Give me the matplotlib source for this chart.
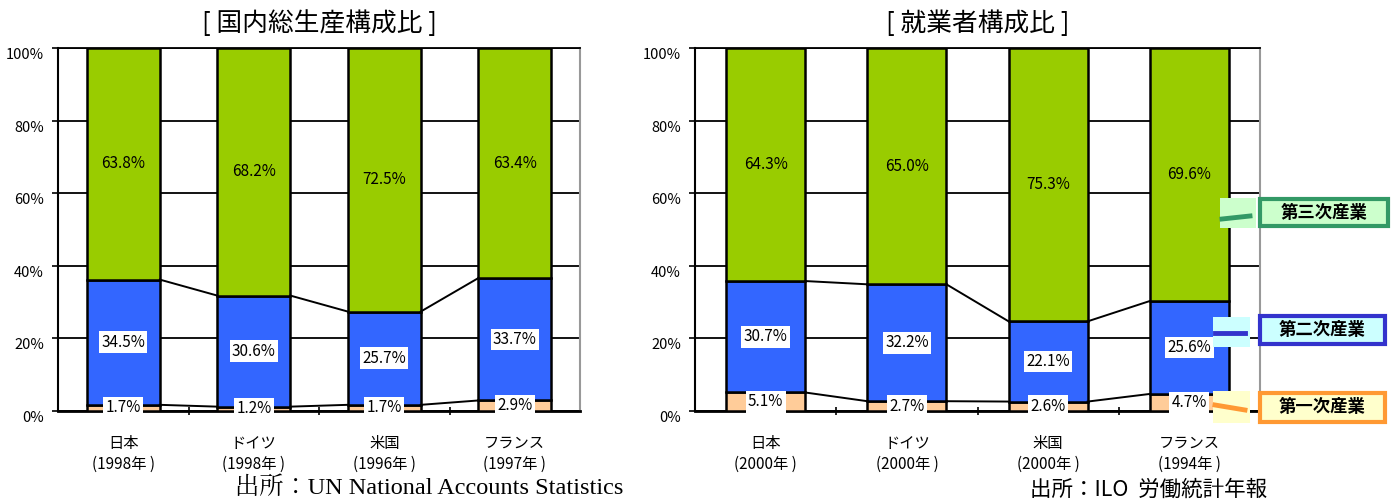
import matplotlib
matplotlib.use("Agg")
import matplotlib.pyplot as plt
from matplotlib.patches import Rectangle
from matplotlib.lines import Line2D
import numpy as np

plt.rcParams['font.family'] = ['Liberation Sans Narrow', 'Noto Sans CJK JP', 'DejaVu Sans']

# 国内総生産構成比
gdp_countries = ['日本\n(1998年 )', 'ドイツ\n(1998年 )', '米国\n(1996年 )', 'フランス\n(1997年 )']
gdp_primary = [1.7, 1.2, 1.7, 2.9]
gdp_secondary = [34.5, 30.6, 25.7, 33.7]
gdp_tertiary = [63.8, 68.2, 72.5, 63.4]

# 就業者構成比
emp_countries = ['日本\n(2000年 )', 'ドイツ\n(2000年 )', '米国\n(2000年 )', 'フランス\n(1994年 )']
emp_primary = [5.1, 2.7, 2.6, 4.7]
emp_secondary = [30.7, 32.2, 22.1, 25.6]
emp_tertiary = [64.3, 65.0, 75.3, 69.6]

C_PRI = '#ffcc99'
C_SEC = '#3366ff'
C_TER = '#99cc00'

W, H = 1399, 504
fig = plt.figure(figsize=(W / 100, H / 100), dpi=100)


def fx(px):
    return px / W


def fy(py):
    return 1 - py / H


def draw_chart(ax, cats, pri, sec, ter, title):
    x = np.arange(len(cats))
    bw = 0.56
    pri = np.array(pri)
    sec = np.array(sec)
    ter = np.array(ter)
    ax.bar(x, pri, bw, color=C_PRI, edgecolor='black', linewidth=1.8, zorder=3)
    ax.bar(x, sec, bw, bottom=pri, color=C_SEC, edgecolor='black', linewidth=1.8, zorder=3)
    ax.bar(x, ter, bw, bottom=pri + sec, color=C_TER, edgecolor='black', linewidth=1.8, zorder=3)

    # series lines between neighbouring bars
    for level in (pri, pri + sec):
        for i in range(len(x) - 1):
            ax.plot([x[i] + bw / 2, x[i + 1] - bw / 2], [level[i], level[i + 1]],
                    color='black', lw=1.4, zorder=4)

    box = dict(boxstyle='square,pad=0.15', facecolor='white', edgecolor='none')
    for i in range(len(x)):
        ax.text(x[i], pri[i] / 2, f'{pri[i]:.1f}%', ha='center', va='center',
                fontsize=11, bbox=box, zorder=5)
        ax.text(x[i], pri[i] + sec[i] / 2, f'{sec[i]:.1f}%', ha='center', va='center',
                fontsize=11, bbox=box, zorder=5)
        ax.text(x[i], pri[i] + sec[i] + ter[i] / 2, f'{ter[i]:.1f}%', ha='center',
                va='center', fontsize=11, zorder=5)

    ax.set_xlim(-0.5, len(cats) - 0.5)
    ax.set_ylim(0, 100)
    ax.set_yticks(np.arange(0, 101, 20))
    ax.set_yticklabels([f'{v}%' for v in range(0, 101, 20)], fontsize=10.5)
    ax.yaxis.grid(True, color='black', lw=1.3, zorder=0)
    ax.set_axisbelow(True)
    ax.set_xticks(x)
    ax.set_xticklabels(cats, fontsize=11, linespacing=1.35)
    ax.set_xticks(np.arange(0.5, len(cats) - 1, 1), minor=True)
    ax.tick_params(axis='x', which='major', length=0, pad=17)
    ax.tick_params(axis='x', which='minor', length=6, direction='inout', width=1.2)
    ax.tick_params(axis='y', length=4, width=1.2, pad=6)
    for lab in ax.get_yticklabels():
        lab.set_verticalalignment('top')
    ax.spines['left'].set_color('black')
    ax.spines['left'].set_linewidth(1.5)
    ax.spines['bottom'].set_color('black')
    ax.spines['bottom'].set_linewidth(2)
    ax.spines['top'].set_color('black')
    ax.spines['top'].set_linewidth(1.3)
    ax.spines['right'].set_color('#999999')
    ax.spines['right'].set_linewidth(1.5)
    ax.set_title(title, fontsize=18.5, pad=12)


ax1 = fig.add_axes([fx(58), fy(411), fx(580 - 58), (411 - 48) / H])
ax2 = fig.add_axes([fx(695), fy(411), fx(1260 - 695), (411 - 48) / H])
draw_chart(ax1, gdp_countries, gdp_primary, gdp_secondary, gdp_tertiary, '[ 国内総生産構成比 ]')
draw_chart(ax2, emp_countries, emp_primary, emp_secondary, emp_tertiary, '[ 就業者構成比 ]')

fig.text(fx(235), fy(488), '出所：UN National Accounts Statistics', fontsize=17.5,
         family=['Liberation Serif', 'Noto Serif CJK JP', 'Noto Sans CJK JP'], va='center')
fig.text(fx(1030), fy(490), '出所：ILO  労働統計年報', fontsize=15.5,
         family=['Noto Sans CJK JP', 'DejaVu Sans'], va='center')

# legend keys and labels
legend = [
    ('第三次産業', '#339966', '#ccffcc', (1220, 198, 1256, 228), (1258, 197, 1390, 228),
     ((1222, 219), (1250, 216))),
    ('第二次産業', '#3333cc', '#ccffff', (1213, 317, 1250, 347), (1258, 314, 1387, 346),
     ((1215, 333), (1245, 333))),
    ('第一次産業', '#ff9933', '#ffffcc', (1213, 391, 1250, 423), (1258, 391, 1387, 424),
     ((1215, 405), (1245, 410))),
]
for name, edge, fill, key, rect, seg in legend:
    kx0, ky0, kx1, ky1 = key
    fig.add_artist(Rectangle((fx(kx0), fy(ky1)), fx(kx1 - kx0), (ky1 - ky0) / H,
                             facecolor=fill, edgecolor='none', transform=fig.transFigure))
    (sx0, sy0), (sx1, sy1) = seg
    fig.add_artist(Line2D([fx(sx0), fx(sx1)], [fy(sy0), fy(sy1)], color=edge, lw=3.5,
                          transform=fig.transFigure))
    rx0, ry0, rx1, ry1 = rect
    fig.add_artist(Rectangle((fx(rx0 + 2), fy(ry1 - 2)), fx(rx1 - rx0 - 4), (ry1 - ry0 - 4) / H,
                             facecolor=fill, edgecolor=edge, lw=3, transform=fig.transFigure))
    fig.text(fx((rx0 + rx1) / 2), fy((ry0 + ry1) / 2), name, ha='center', va='center',
             fontsize=12.5, fontweight='bold', family=['Noto Sans CJK JP'])

fig.savefig('out.png', dpi=100)
